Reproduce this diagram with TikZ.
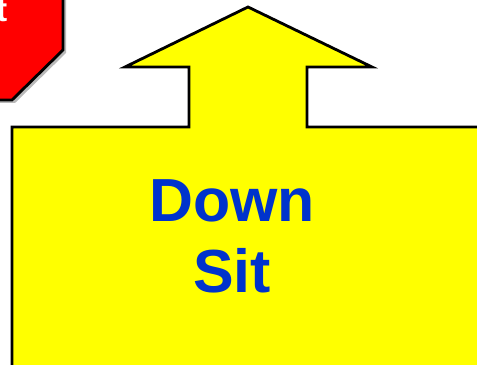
\documentclass[tikz,border=0pt]{standalone}
\usepackage{fontspec}
\setmainfont{Liberation Sans}
\definecolor{signred}{RGB}{255, 0, 0}
\definecolor{signyellow}{RGB}{255, 255, 0}
\definecolor{signblue}{RGB}{0, 51, 204}

\begin{document}
\begin{tikzpicture}[x=0.01cm, y=-0.01cm]
        \useasboundingbox (0,0) rectangle (477,365);
        \clip (0,0) rectangle (477,365);

        % Stop sign (cut off)
        \fill[gray!55] (-40,-10) -- (66,-10) -- (66,53) -- (15,103) -- (-40,103) -- cycle;
        \draw[thick, fill=signred] (-40,-10) -- (63,-10) -- (63,50) -- (12,100) -- (-40,100) -- cycle;
        \node[anchor=base east, inner sep=0pt, text=white, font=\bfseries\fontsize{9.5}{11}\selectfont] (stoptext) at (8,22) {t};

        % Up arrow
        \draw[thick, fill=signyellow] (12,380) -- (12,127) -- (189,127) -- (189,67) -- (125,67) -- (248,7)
            -- (372,67) -- (307,67) -- (307,127) -- (500,127) -- (500,380) -- cycle;

        % Labels
        \node[anchor=base, inner sep=0pt, text=signblue, font=\bfseries\fontsize{17.3}{20}\selectfont] (down) at (232,222) {Down};
        \node[anchor=base, inner sep=0pt, text=signblue, font=\bfseries\fontsize{17.3}{20}\selectfont] (sit) at (232,293) {Sit};
    \end{tikzpicture}
\end{document}
